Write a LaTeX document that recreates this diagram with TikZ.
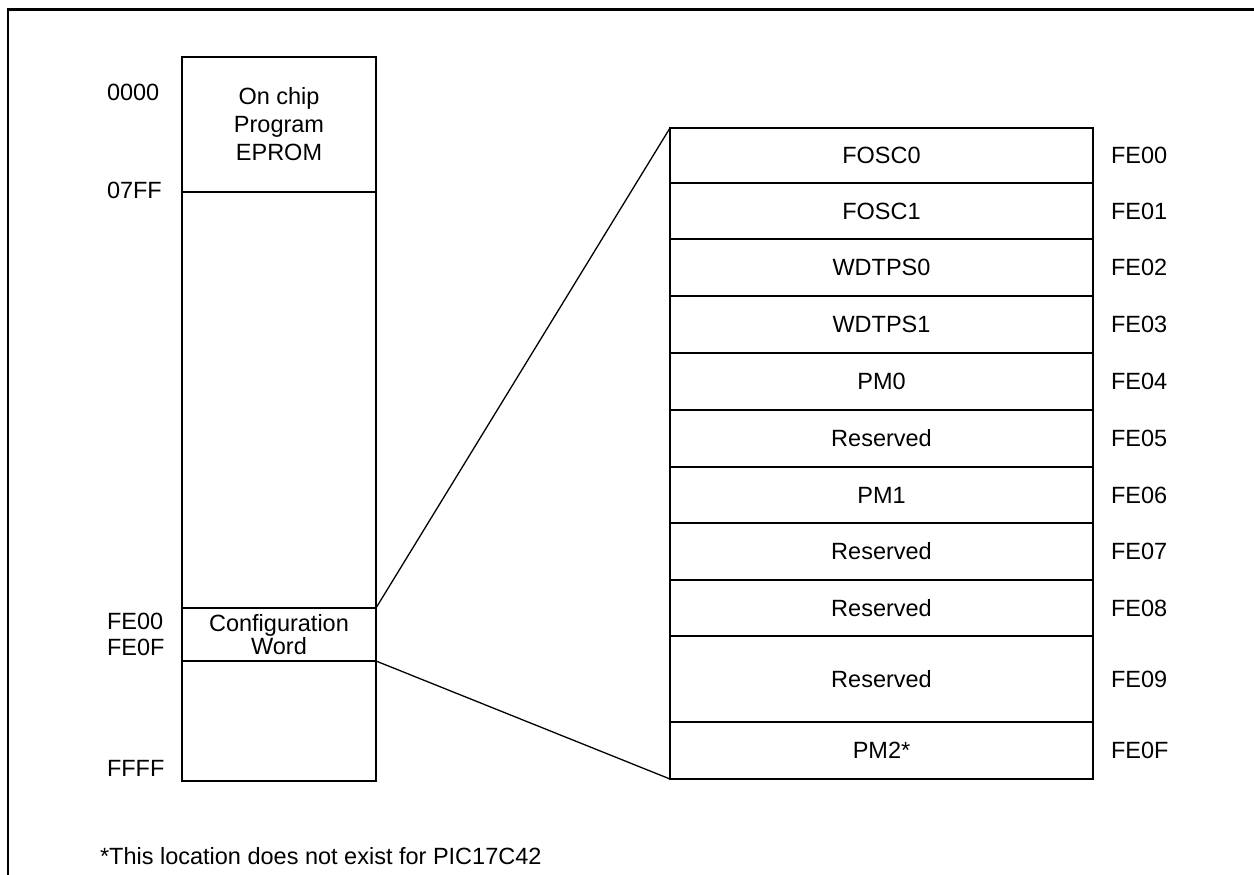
\documentclass[tikz,border=0pt]{standalone}
\usepackage{fontspec}
\setmainfont{Liberation Sans}
\begin{document}
\begin{tikzpicture}[x=1pt,y=-1pt,
  every node/.style={inner sep=0pt, outer sep=0pt},
  txt/.style={font=\fontsize{23.5}{28}\selectfont},
  cell/.style={draw, line width=1.3pt, txt, align=center},
  lab/.style={txt, anchor=west},
  conn/.style={line width=1.3pt},
  frame/.style={line width=2.6pt}]
\useasboundingbox (0,0) rectangle (1254,875);
% frame
\coordinate (fb) at (8,876);
\coordinate (ftl) at (8,9.5);
\coordinate (ftr) at (1255,9.5);
\draw[frame] (fb) -- (ftl) -- (ftr);
% left memory map
\node[cell, anchor=north west, minimum width=194pt, minimum height=135pt] (eprom) at (182,57) {On chip\\Program\\EPROM};
\node[cell, anchor=north west, minimum width=194pt, minimum height=416pt] (mid) at (182,192) {};
\node[cell, anchor=north west, minimum width=194pt, minimum height=53pt, font=\fontsize{23.5}{23.5}\selectfont] (cfg) at (182,608) {Configuration\\Word};
\node[cell, anchor=north west, minimum width=194pt, minimum height=120pt] (low) at (182,661) {};
\node[lab] (l0) at (107,92) {0000};
\node[lab] (l1) at (107,190) {07FF};
\node[lab] (l2) at (107,621) {FE00};
\node[lab] (l3) at (107,647) {FE0F};
\node[lab] (l4) at (107,768) {FFFF};
% right table
\foreach \i/\t/\b/\tx/\ad in {0/128/183/FOSC0/FE00, 1/183/239/FOSC1/FE01, 2/239/296/WDTPS0/FE02,
  3/296/353/WDTPS1/FE03, 4/353/410/PM0/FE04, 5/410/467/Reserved/FE05, 6/467/523/PM1/FE06,
  7/523/580/Reserved/FE07, 8/580/636/Reserved/FE08, 9/636/722/Reserved/FE09, 10/722/779/PM2*/FE0F} {
  \node[cell, anchor=north west, minimum width=423pt, minimum height={(\b-\t)*1pt}] (r\i) at (670,\t) {\tx};
  \node[lab] (a\i) at (1111,{(\t+\b)/2}) {\ad};
}
% connectors
\draw[conn] (cfg.north east) -- (r0.north west);
\draw[conn] (cfg.south east) -- (r10.south west);
% footnote
\node[lab] (note) at (100,856) {*This location does not exist for PIC17C42};
\end{tikzpicture}
\end{document}
